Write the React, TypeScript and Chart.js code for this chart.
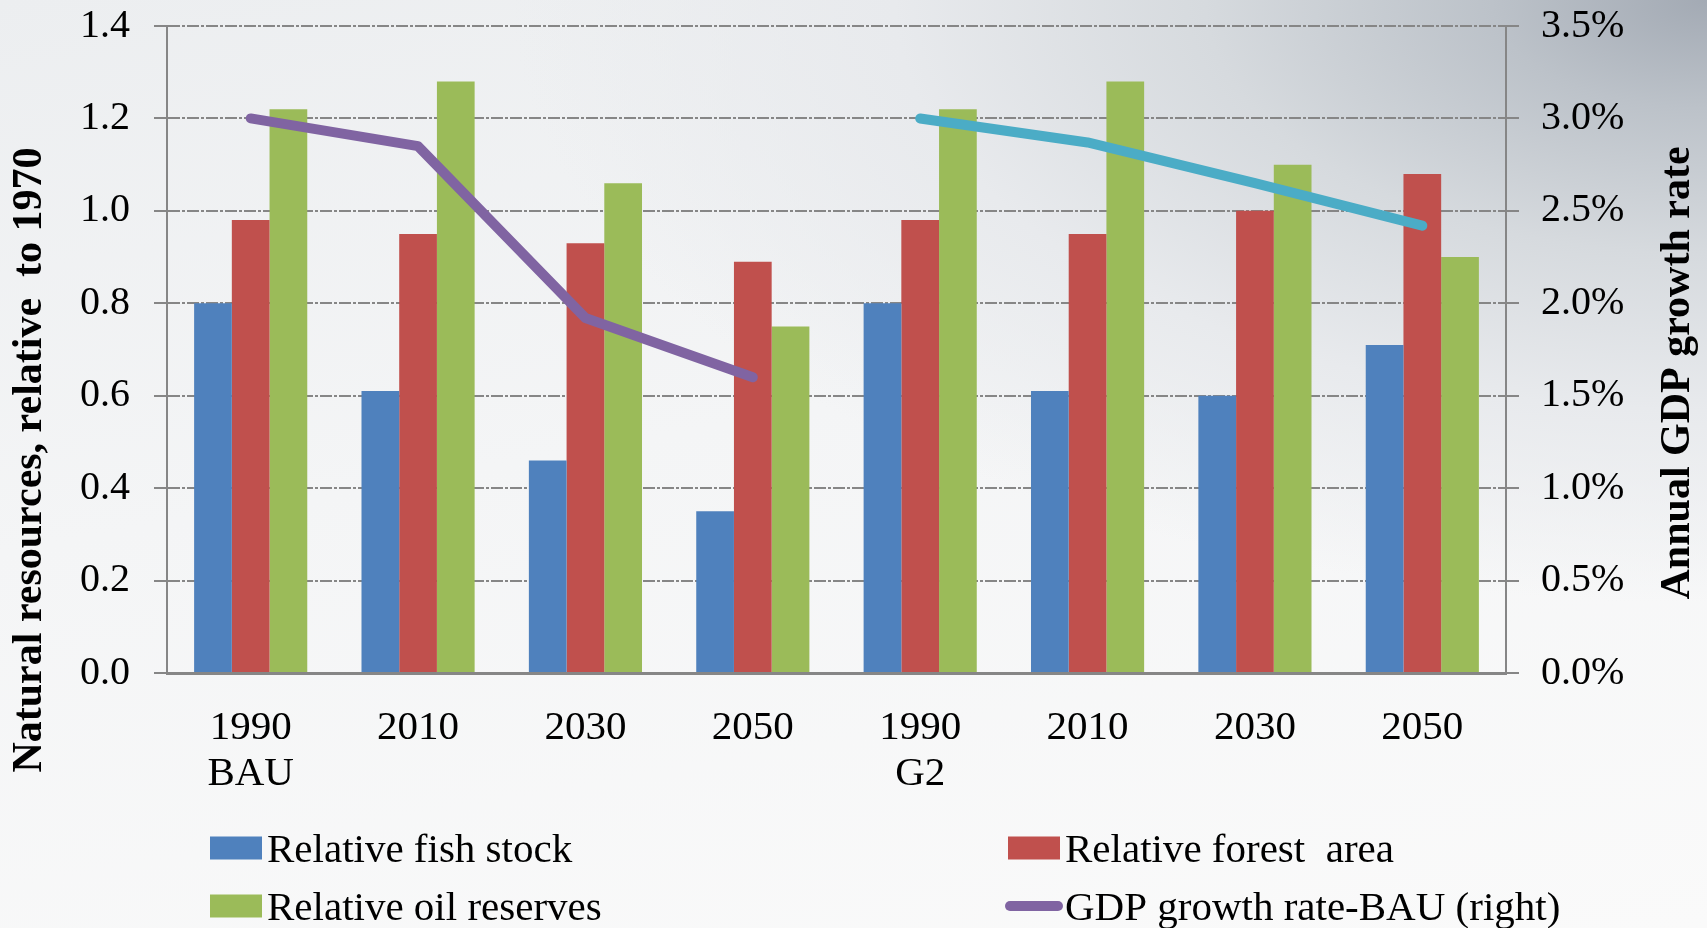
import { useEffect, useRef } from "react";
import { Chart, registerables } from "chart.js";

Chart.register(...registerables);

// ---- data ----
const categories: (string | string[])[] = [
  ["1990", "BAU"], "2010", "2030", "2050",
  ["1990", "G2"], "2010", "2030", "2050",
];
const fishStock = [0.8, 0.61, 0.46, 0.35, 0.8, 0.61, 0.6, 0.71];
const forestArea = [0.98, 0.95, 0.93, 0.89, 0.98, 0.95, 1.0, 1.08];
const oilReserves = [1.22, 1.28, 1.06, 0.75, 1.22, 1.28, 1.1, 0.9];
const gdpBau = [3.0, 2.85, 1.92, 1.6, null, null, null, null];
const gdpG2 = [null, null, null, null, 3.0, 2.87, 2.65, 2.42];

const leftTickLabels = ["0.0", "0.2", "0.4", "0.6", "0.8", "1.0", "1.2", "1.4"];
const rightTickLabels = ["0.0%", "0.5%", "1.0%", "1.5%", "2.0%", "2.5%", "3.0%", "3.5%"];

const leftTitle = "Natural resources, relative  to 1970";
const rightTitle = "Annual GDP growth rate";

const SERIF = '"Liberation Serif", "Times New Roman", serif';
const GRID = "#868686";

// Axis titles and the two-column legend, painted on top of the chart.
const decorations = {
  id: "decorations",
  afterDraw(chart: any) {
    const ctx: CanvasRenderingContext2D = chart.ctx;
    ctx.save();
    ctx.fillStyle = "#000";

    // rotated axis titles
    ctx.font = `bold 42px ${SERIF}`;
    ctx.textAlign = "center";
    ctx.textBaseline = "middle";
    ctx.save();
    ctx.translate(30, 460);
    ctx.rotate(-Math.PI / 2);
    ctx.fillText(leftTitle, 0, 0);
    ctx.restore();
    ctx.save();
    ctx.translate(1678, 373);
    ctx.rotate(-Math.PI / 2);
    ctx.fillText(rightTitle, 0, 0);
    ctx.restore();

    // legend: 2 columns x 2 rows
    const entries = chart.data.datasets.filter((d: any) => !d.hideInLegend);
    const colX = [210, 1008];
    const rowBase = [862, 920];
    ctx.font = `41px ${SERIF}`;
    ctx.textAlign = "left";
    ctx.textBaseline = "alphabetic";
    entries.forEach((d: any, i: number) => {
      const x = colX[i % 2];
      const base = rowBase[Math.floor(i / 2)];
      const mid = base - 14;
      if (d.type === "line") {
        ctx.save();
        ctx.strokeStyle = d.borderColor;
        ctx.lineWidth = 10;
        ctx.lineCap = "round";
        ctx.beginPath();
        ctx.moveTo(x + 2, mid);
        ctx.lineTo(x + 50, mid);
        ctx.stroke();
        ctx.restore();
      } else {
        ctx.fillStyle = d.backgroundColor;
        ctx.fillRect(x, mid - 11.5, 52, 23);
      }
      ctx.fillStyle = "#000";
      ctx.fillText(d.label, x + 57, base);
    });
    ctx.restore();
  },
};

// fixed axis thickness; vertical axes reserve no extra room above or below
const fixWidth = (w: number) => (s: any) => {
  s.width = w;
  s.paddingTop = 0;
  s.paddingBottom = 0;
};

export default function App() {
  const canvasRef = useRef<HTMLCanvasElement | null>(null);

  useEffect(() => {
    const canvas = canvasRef.current;
    if (!canvas) return;
    const chart = new Chart(canvas, {
      type: "bar",
      data: {
        labels: categories,
        datasets: [
          {
            type: "bar",
            label: "Relative fish stock",
            data: fishStock,
            backgroundColor: "#4F81BD",
            yAxisID: "y",
            order: 1,
          },
          {
            type: "bar",
            label: "Relative forest  area",
            data: forestArea,
            backgroundColor: "#C0504D",
            yAxisID: "y",
            order: 1,
          },
          {
            type: "bar",
            label: "Relative oil reserves",
            data: oilReserves,
            backgroundColor: "#9BBB59",
            yAxisID: "y",
            order: 1,
          },
          {
            type: "line",
            label: "GDP growth rate-BAU (right)",
            data: gdpBau,
            borderColor: "#8064A2",
            backgroundColor: "#8064A2",
            borderWidth: 10,
            borderCapStyle: "round",
            borderJoinStyle: "round",
            pointRadius: 0,
            tension: 0,
            spanGaps: false,
            yAxisID: "y1",
            order: 0,
          },
          {
            type: "line",
            label: "GDP growth rate-G2 (right)",
            data: gdpG2,
            borderColor: "#4BACC6",
            backgroundColor: "#4BACC6",
            borderWidth: 10,
            borderCapStyle: "round",
            borderJoinStyle: "round",
            pointRadius: 0,
            tension: 0,
            spanGaps: false,
            yAxisID: "y1",
            order: 0,
            hideInLegend: true,
          } as any,
        ],
      },
      options: {
        responsive: false,
        animation: false,
        devicePixelRatio: 1,
        layout: { padding: { top: 26, left: 0, right: 0, bottom: 0 } },
        datasets: {
          bar: { categoryPercentage: 0.676, barPercentage: 1.0, borderWidth: 0 },
        },
        plugins: {
          legend: { display: false },
          tooltip: { enabled: false },
          title: { display: false },
        },
        scales: {
          x: {
            grid: { display: false },
            border: { display: true, color: GRID, width: 3 },
            ticks: {
              color: "#000",
              font: { family: SERIF, size: 41, lineHeight: 1.12 },
              padding: 24,
              maxRotation: 0,
              autoSkip: false,
            },
            afterFit: (s: any) => {
              s.height = 255;
            },
          },
          y: {
            position: "left",
            min: 0,
            max: 1.4,
            ticks: {
              stepSize: 0.2,
              color: "#000",
              font: { family: SERIF, size: 40 },
              padding: 24,
              callback: (_v: any, i: number) => leftTickLabels[i],
            },
            grid: {
              color: GRID,
              lineWidth: 2,
              tickLength: 13,
              tickColor: GRID,
              tickWidth: 2,
            },
            border: { display: true, color: GRID, width: 2, dash: [12, 2, 3, 2] },
            afterFit: fixWidth(167),
          },
          y1: {
            position: "right",
            min: 0,
            max: 3.5,
            ticks: {
              stepSize: 0.5,
              color: "#000",
              font: { family: SERIF, size: 40 },
              padding: 22,
              callback: (_v: any, i: number) => rightTickLabels[i],
            },
            grid: {
              drawOnChartArea: false,
              color: GRID,
              lineWidth: 2,
              tickLength: 13,
              tickColor: GRID,
              tickWidth: 2,
            },
            border: { display: true, color: GRID, width: 2 },
            afterFit: fixWidth(201),
          },
        },
      },
      plugins: [decorations],
    } as any);
    return () => chart.destroy();
  }, []);

  return (
    <div
      style={{
        position: "absolute",
        left: 0,
        top: 0,
        width: 1707,
        height: 928,
        overflow: "hidden",
        background:
          "radial-gradient(ellipse 70% 65% at 100% 0%, #a3aab4 0%, #bcc2c9 18%, #d6dade 42%, #e8eaed 68%, rgba(240,241,243,0) 100%), linear-gradient(170deg, #eceef0 0%, #f4f5f6 45%, #fafafa 100%)",
      }}
    >
      <canvas ref={canvasRef} width={1707} height={928} style={{ display: "block" }} />
    </div>
  );
}
